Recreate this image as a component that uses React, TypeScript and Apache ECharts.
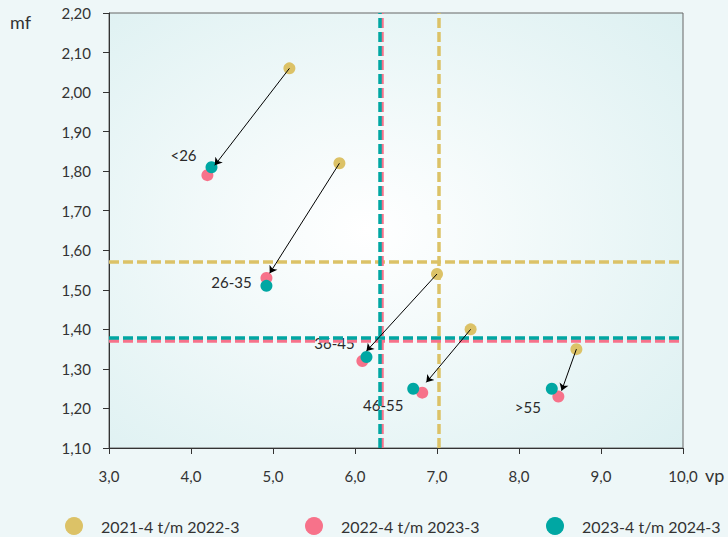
import React, { useEffect, useRef } from "react";
import * as echarts from "echarts";

const groups = ["<26", "26-35", "36-45", "46-55", ">55"];
const seriesNames = ["2021-4 t/m 2022-3", "2022-4 t/m 2023-3", "2023-4 t/m 2024-3"];
const colors = ["#dcc267", "#f7728a", "#00a7a3"];

const vp2122 = [5.2, 5.81, 7.0, 7.41, 8.7];
const mf2122 = [2.06, 1.82, 1.54, 1.4, 1.35];
const vp2223 = [4.2, 4.92, 6.09, 6.82, 8.48];
const mf2223 = [1.79, 1.53, 1.32, 1.24, 1.23];
const vp2324 = [4.25, 4.92, 6.14, 6.71, 8.4];
const mf2324 = [1.81, 1.51, 1.33, 1.25, 1.25];

// average reference lines per period
const avgVp = [7.02, 6.33, 6.3];
const avgMf = [1.57, 1.37, 1.38];

// arrow tips
const arrowEndVp = [4.29, 4.96, 6.14, 6.87, 8.52];
const arrowEndMf = [1.815, 1.542, 1.345, 1.266, 1.245];

// label offsets for group names
const labelOffsets: [number, number][] = [
  [-28, -12],
  [-35, -4],
  [-32, -14],
  [-30, 16],
  [-24, 18],
];

const legendLefts = [60, 300, 541];

const xTicks = { min: 3, max: 10, interval: 1 };
const yTicks = { min: 1.1, max: 2.2, interval: 0.1 };

const FONT = "Lato, 'Noto Sans', sans-serif";

export default function App() {
  const ref = useRef<HTMLDivElement>(null);
  useEffect(() => {
    if (!ref.current) return;
    const chart = echarts.init(ref.current, undefined, { renderer: "svg" });
    const vps = [vp2122, vp2223, vp2324];
    const mfs = [mf2122, mf2223, mf2324];
    const pointSeries = seriesNames.map((name, i) => ({
      name,
      type: "scatter",
      symbolSize: 12,
      z: 4,
      itemStyle: { color: colors[i], opacity: 1 },
      data: vps[i].map((v, k) => [v, mfs[i][k]]),
      markLine: {
        silent: true,
        symbol: "none",
        z: 3,
        label: { show: false },
        lineStyle: { color: colors[i], width: 3.5, type: [10, 4], opacity: 1 },
        data: [{ xAxis: avgVp[i] }, { yAxis: avgMf[i] }],
      },
    }));
    const legends = seriesNames.map((name, i) => ({
      data: [name],
      left: legendLefts[i],
      top: 512,
      icon: "circle",
      itemWidth: 44,
      itemHeight: 18,
      textStyle: { fontSize: 16, color: "#333", fontFamily: FONT },
    }));
    const option = {
      animation: false,
      backgroundColor: "#eef7f8",
      textStyle: { fontFamily: FONT },
      grid: {
        left: 109,
        right: 45,
        top: 13,
        bottom: 89,
        show: true,
        borderColor: "#666",
        borderWidth: 1,
        backgroundColor: {
          type: "radial",
          x: 0.45,
          y: 0.5,
          r: 0.75,
          colorStops: [
            { offset: 0, color: "#ffffff" },
            { offset: 1, color: "#dcf0f1" },
          ],
        },
      },
      legend: legends,
      xAxis: {
        type: "value",
        ...xTicks,
        name: "vp",
        nameLocation: "end",
        nameGap: 22,
        nameTextStyle: {
          fontSize: 18,
          color: "#333",
          align: "left",
          verticalAlign: "top",
          padding: [18, 0, 0, 0],
          fontFamily: FONT,
        },
        axisLine: { show: true, onZero: false, lineStyle: { color: "#333" } },
        axisTick: { show: true, length: 6, lineStyle: { color: "#333" } },
        splitLine: { show: false },
        axisLabel: {
          margin: 20,
          fontSize: 15,
          color: "#333",
          fontFamily: FONT,
          formatter: (v: number) => v.toFixed(1).replace(".", ","),
        },
      },
      yAxis: {
        type: "value",
        ...yTicks,
        name: "mf",
        nameLocation: "end",
        nameGap: 0,
        nameTextStyle: {
          fontSize: 18,
          color: "#333",
          align: "right",
          verticalAlign: "top",
          padding: [0, 78, 0, 0],
          fontFamily: FONT,
        },
        axisLine: { show: true, onZero: false, lineStyle: { color: "#333" } },
        axisTick: { show: true, length: 6, lineStyle: { color: "#333" } },
        splitLine: { show: false },
        axisLabel: {
          margin: 18,
          fontSize: 15,
          color: "#333",
          fontFamily: FONT,
          formatter: (v: number) => v.toFixed(2).replace(".", ","),
        },
      },
      series: [
        {
          name: "groups",
          type: "scatter",
          symbol: "circle",
          symbolSize: 1,
          z: 2,
          silent: true,
          itemStyle: { color: "rgba(255,255,255,0)", opacity: 1 },
          data: groups.map((g, k) => ({
            value: [vp2324[k], mf2324[k]],
            name: g,
            label: {
              show: true,
              position: "inside",
              offset: labelOffsets[k],
              formatter: g,
              fontSize: 15,
              color: "#2a2a2a",
              opacity: 1,
              textBorderWidth: 0,
              fontFamily: FONT,
            },
          })),
        },
        ...pointSeries,
        {
          name: "arrows",
          type: "lines",
          coordinateSystem: "cartesian2d",
          z: 5,
          silent: true,
          symbol: ["none", "arrow"],
          symbolSize: 7,
          lineStyle: { color: "#000", width: 1, opacity: 1 },
          data: groups.map((g, k) => ({
            coords: [
              [vp2122[k], mf2122[k]],
              [arrowEndVp[k], arrowEndMf[k]],
            ],
          })),
        },
      ],
    };
    chart.setOption(option as any);
    return () => chart.dispose();
  }, []);
  return (
    <div
      ref={ref}
      style={{ position: "absolute", left: 0, top: 0, width: 728, height: 537 }}
    />
  );
}
